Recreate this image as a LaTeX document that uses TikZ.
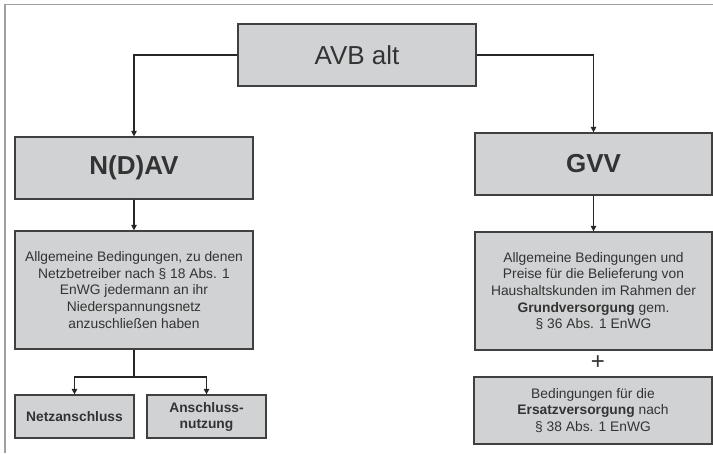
\documentclass[tikz,border=0pt]{standalone}
\definecolor{boxgray}{RGB}{209,210,212}
\definecolor{edgegray}{RGB}{64,64,64}
\definecolor{textgray}{RGB}{51,51,51}
\definecolor{framegray}{RGB}{160,160,160}
\usepackage{fontspec}
\setmainfont{Liberation Sans}
\usepackage{tikz}
\usetikzlibrary{arrows.meta}

\begin{document}
\begin{tikzpicture}[x=1pt, y=-1pt,
    box/.style={draw=edgegray, fill=boxgray, line width=1.3pt, inner sep=0pt,
      align=center, text=textgray},
    small/.style={font=\fontsize{13.8}{16.6}\selectfont},
    big/.style={font=\fontsize{26}{30}\selectfont},
    conn/.style={line width=1.6pt, draw=black!85},
    arr/.style={conn, -{Triangle[length=5.5pt, width=5.5pt]}}]
  \useasboundingbox (0,0) rectangle (713,453);
  %% frame (top and left edge only)
  \draw[framegray, line width=1.3pt] (5,453) -- (5,4.7) -- (713,4.7);
  %% top level
  \node[box, big, minimum width=238pt, minimum height=62pt] (avb) at (357,55) {AVB alt};
  \node[box, big, font=\fontsize{26}{30}\selectfont\bfseries, minimum width=238pt, minimum height=62pt] (ndav) at (134,168) {N(D)AV};
  \node[box, big, font=\fontsize{26}{30}\selectfont\bfseries, minimum width=237pt, minimum height=62pt] (gvv) at (593.5,164) {GVV};
  %% description boxes
  \node[box, small, minimum width=238pt, minimum height=118pt] (ntext) at (134,290)
    {Allgemeine Bedingungen, zu denen\\ Netzbetreiber nach § 18 Abs. 1\\ EnWG jedermann an ihr\\ Niederspannungsnetz\\ anzuschließen haben};
  \node[box, small, minimum width=237pt, minimum height=118pt] (gtext) at (593.5,291)
    {Allgemeine Bedingungen und\\ Preise für die Belieferung von\\ Haushaltskunden im Rahmen der\\ \textbf{Grundversorgung} gem.\\ § 36 Abs. 1 EnWG};
  \node[text=textgray, font=\fontsize{24}{26}\selectfont] (plus) at (598,363) {+};
  \node[box, small, minimum width=238pt, minimum height=67pt] (ersatz) at (593,410.5)
    {Bedingungen für die\\ \textbf{Ersatzversorgung} nach\\ § 38 Abs. 1 EnWG};
  %% bottom left
  \node[box, small, font=\fontsize{13.8}{16}\selectfont\bfseries, minimum width=119pt, minimum height=43pt] (netz) at (74.5,416.5) {Netzanschluss};
  \node[box, small, font=\fontsize{13.8}{16}\selectfont\bfseries, minimum width=119pt, minimum height=43pt] (anschl) at (206.5,416.5) {Anschluss-\\nutzung};
  \coordinate (split) at (134,377);
  %% connectors
  \draw[arr] (avb.west) -| (ndav.north);
  \draw[arr] (avb.east) -| (gvv.north);
  \draw[arr] (ndav) -- (ntext);
  \draw[arr] (gvv) -- (gtext);
  \draw[conn] (ntext) -- (split);
  \draw[arr] (split) -| (netz.north);
  \draw[arr] (split) -| (anschl.north);
\end{tikzpicture}
\end{document}
